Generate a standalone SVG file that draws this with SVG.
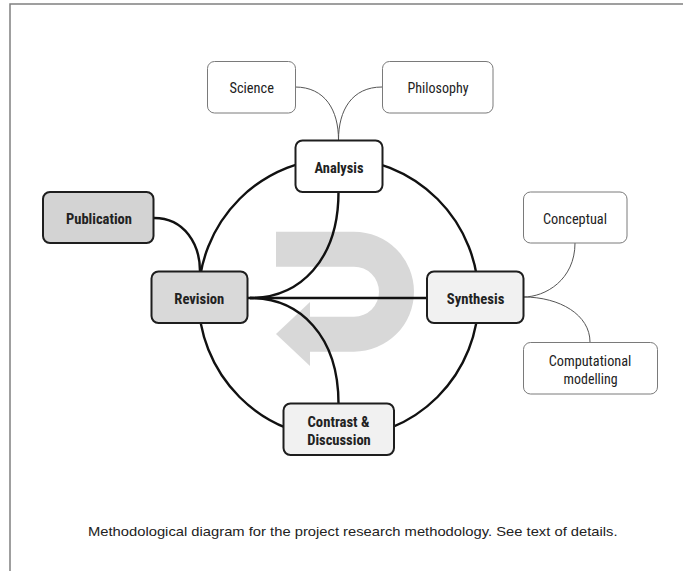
<svg xmlns="http://www.w3.org/2000/svg" width="683" height="571" viewBox="0 0 683 571">
<style>
.lbl{font-family:"Roboto Condensed","Roboto","Liberation Sans",sans-serif;font-size:15px;fill:#222;text-anchor:middle}
.b{font-weight:bold}
.thin{fill:#fff;stroke:#7a7a7a;stroke-width:1}
.main{stroke:#1e1e1e;stroke-width:2}
.conn{fill:none;stroke:#111;stroke-width:2.4}
.tconn{fill:none;stroke:#555;stroke-width:1}
</style>
<rect x="0" y="0" width="683" height="571" fill="#fff"/>
<path d="M10,600 L10,4 L700,4" fill="none" stroke="#808080" stroke-width="1.5"/>
<path id="watermark" d="M276,231.7 L354,231.7 A60,60 0 0 1 354,351.7 L310,351.7 L310,366 L276,334 L310,302 L310,316.7 L354,316.7 A25,25 0 0 0 354,266.7 L276,266.7 Z" fill="#d8d8d8"/>
<g id="connectors">
<circle cx="338.5" cy="298" r="140" class="conn"/>
<path class="conn" d="M338.5,192 C338.5,260 300,298 250,298"/>
<path class="conn" d="M338.5,403.5 C338.5,336 300,298 250,298"/>
<path class="conn" d="M247,298 L427,298"/>
<path class="conn" d="M154,218 C185,218 200,245 200,271"/>
<path class="tconn" d="M295,87 C325,87 338.5,110 338.5,140"/>
<path class="tconn" d="M382,87 C352,87 338.5,110 338.5,140"/>
<path class="tconn" d="M575,243 C575,280 545,297 523.5,297"/>
<path class="tconn" d="M590,342 C590,315 560,297 523.5,297"/>
</g>
<g id="science"><rect x="207.5" y="61.5" width="88" height="51.5" rx="7" class="thin"/><text x="251.7" y="93" class="lbl" textLength="44.5" lengthAdjust="spacingAndGlyphs">Science</text></g>
<g id="philosophy"><rect x="382.5" y="61.5" width="110.5" height="51.5" rx="7" class="thin"/><text x="438" y="93" class="lbl" textLength="61" lengthAdjust="spacingAndGlyphs">Philosophy</text></g>
<g id="analysis"><rect x="295.5" y="140.5" width="87" height="51.5" rx="7" fill="#fff" class="main"/><text x="339" y="172.5" class="lbl b" textLength="49" lengthAdjust="spacingAndGlyphs">Analysis</text></g>
<g id="publication"><rect x="43" y="192" width="110.5" height="51" rx="7" fill="#d3d3d3" class="main"/><text x="99" y="223.5" class="lbl b" textLength="66" lengthAdjust="spacingAndGlyphs">Publication</text></g>
<g id="conceptual"><rect x="523.5" y="192" width="103.5" height="51" rx="7" class="thin"/><text x="575" y="223.5" class="lbl" textLength="64" lengthAdjust="spacingAndGlyphs">Conceptual</text></g>
<g id="revision"><rect x="151.5" y="271.5" width="96" height="51.5" rx="7" fill="#d9d9d9" class="main"/><text x="199.3" y="303.5" class="lbl b" textLength="50" lengthAdjust="spacingAndGlyphs">Revision</text></g>
<g id="synthesis"><rect x="427" y="271.5" width="96.5" height="51.5" rx="7" fill="#f1f1f1" class="main"/><text x="475.6" y="303.5" class="lbl b" textLength="57.5" lengthAdjust="spacingAndGlyphs">Synthesis</text></g>
<g id="computational"><rect x="523.5" y="342.5" width="134" height="51.5" rx="7" class="thin"/><text x="590" y="365.5" class="lbl" textLength="82.7" lengthAdjust="spacingAndGlyphs">Computational</text><text x="590.6" y="383.5" class="lbl" textLength="54" lengthAdjust="spacingAndGlyphs">modelling</text></g>
<g id="contrast"><rect x="283.5" y="403.5" width="110.5" height="51.5" rx="7" fill="#f1f1f1" class="main"/><text x="338.5" y="427" class="lbl b" textLength="62" lengthAdjust="spacingAndGlyphs">Contrast &amp;</text><text x="339" y="445" class="lbl b" textLength="63.6" lengthAdjust="spacingAndGlyphs">Discussion</text></g>
<text x="352.8" y="536" font-family="Liberation Sans, Arial, sans-serif" font-size="13.5" fill="#222" text-anchor="middle" textLength="529.6" lengthAdjust="spacingAndGlyphs">Methodological diagram for the project research methodology. See text of details.</text>
</svg>
